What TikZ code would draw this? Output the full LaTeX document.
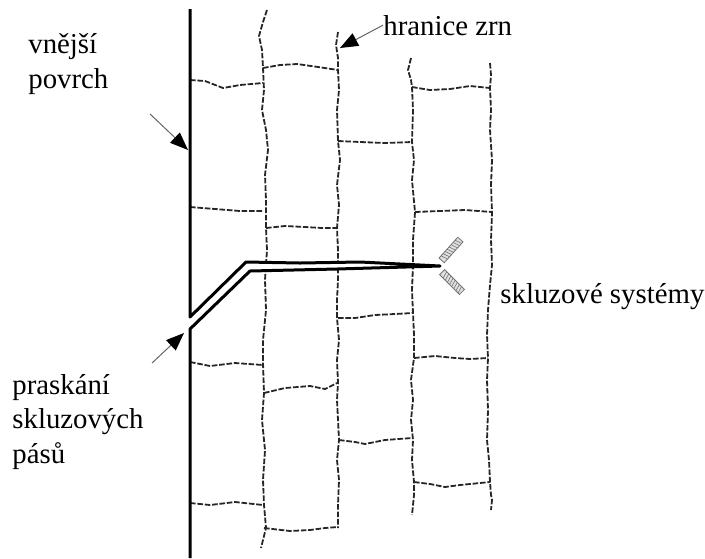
\documentclass[tikz,border=0pt]{standalone}
\usepackage{fontspec}
\setmainfont{Liberation Serif}
\usetikzlibrary{arrows.meta}

\begin{document}
\begin{tikzpicture}[x=0.5pt,y=-0.5pt]
	\tikzset{every node/.style={inner sep=0pt,font=\fontsize{14.4}{17.2}\selectfont}}
	\tikzset{hranice/.style={black!85,line width=0.9pt,dash pattern=on 2.8pt off 0.9pt,line join=round}}
	\tikzset{povrch/.style={line width=1.5pt,line join=round}}
	\tikzset{popis/.style={black!60,line width=0.5pt,-{Triangle[length=9pt,width=7pt,color=black]}}}
	\tikzset{pas/.style={draw=black!55,fill=black!12,line width=0.4pt}}
	\useasboundingbox (0,0) rectangle (705,558);
	% grain boundaries, column by column
	\draw[hranice] (267,10) -- (263,22) -- (259,36) -- (262,50) -- (263,68) -- (264,90) -- (262,110) -- (266,130) -- (268,150) -- (265,175) -- (266,200) -- (266,228) -- (267,250) -- (265,280) -- (266,310) -- (263,340) -- (263,363) -- (264,393) -- (262,420) -- (265,450) -- (263,480) -- (264,505) -- (266,528) -- (263,540) -- (261,548);
	\draw[hranice] (338,32) -- (336,45) -- (338,58) -- (338,70) -- (339,90) -- (337,110) -- (338,141) -- (340,160) -- (337,185) -- (339,205) -- (337,228) -- (338,250) -- (338,280) -- (337,300) -- (337,318) -- (339,340) -- (337,360) -- (338,383) -- (337,400) -- (338,420) -- (339,440) -- (337,460) -- (339,480) -- (338,505) -- (338,528);
	\draw[hranice] (411,58) -- (408,70) -- (411,80) -- (412,87) -- (413,110) -- (412,142) -- (414,160) -- (412,180) -- (415,212) -- (413,240) -- (413,265) -- (412,290) -- (413,313) -- (414,335) -- (414,358) -- (411,380) -- (413,400) -- (411,420) -- (413,440) -- (412,460) -- (414,482) -- (414,495) -- (412,515);
	\draw[hranice] (490,63) -- (491,75) -- (490,88) -- (491,110) -- (490,130) -- (492,160) -- (491,185) -- (492,212) -- (491,240) -- (492,265) -- (490,285) -- (488,310) -- (487,335) -- (488,358) -- (487,380) -- (488,410) -- (487,440) -- (489,460) -- (490,482) -- (491,495) -- (492,500) -- (491,510);
	\draw[hranice] (190,80) -- (205,81) -- (223,88) -- (240,85) -- (263,83);
	\draw[hranice] (263,68) -- (280,65) -- (297,64) -- (318,67) -- (338,70);
	\draw[hranice] (412,87) -- (430,90) -- (450,89) -- (470,86) -- (490,88);
	\draw[hranice] (338,141) -- (360,142) -- (385,143) -- (412,142);
	\draw[hranice] (190,207) -- (215,209) -- (240,211) -- (263,211);
	\draw[hranice] (415,212) -- (440,211) -- (465,210) -- (492,212);
	\draw[hranice] (266,228) -- (285,226) -- (305,227) -- (322,228) -- (337,228);
	\draw[hranice] (338,318) -- (355,318) -- (375,315) -- (395,314) -- (413,313);
	\draw[hranice] (190,362) -- (210,366) -- (235,363) -- (263,365);
	\draw[hranice] (264,393) -- (285,388) -- (310,386) -- (325,389) -- (337,383);
	\draw[hranice] (414,358) -- (435,356) -- (455,358) -- (470,359) -- (488,358);
	\draw[hranice] (339,440) -- (355,442) -- (365,444) -- (385,440) -- (412,438);
	\draw[hranice] (190,503) -- (210,505) -- (235,502) -- (263,505);
	\draw[hranice] (264,528) -- (290,531) -- (310,530) -- (325,528) -- (338,527);
	\draw[hranice] (414,482) -- (430,484) -- (445,487) -- (460,485) -- (490,482);
	% surface with the crack
	\filldraw[povrch,fill=white] (190,9) -- (190,317) -- (246,262) -- (300,263) -- (360,262) -- (440,266) -- (337,269) -- (250,271) -- (190,329) -- (190,558);
	% slip bands at the tip
	\begin{scope}[shift={(451,250)},rotate=48]
		\draw[pas] (-14,-3.5) rectangle (14,3.5);
		\foreach \t in {-11,-8,...,10}
			\draw[black!55,line width=0.3pt] (\t,-3.5) -- (\t+2,3.5);
	\end{scope}
	\begin{scope}[shift={(452,282)},rotate=-45]
		\draw[pas] (-14,-3.5) rectangle (14,3.5);
		\foreach \t in {-11,-8,...,10}
			\draw[black!55,line width=0.3pt] (\t,-3.5) -- (\t+2,3.5);
	\end{scope}
	% labels
	\node[anchor=base west,align=left] (povrch) at (28,88) {vnější\\povrch};
	\node[anchor=base west] (zrn) at (383,35) {hranice zrn};
	\node[anchor=base west] (systemy) at (500,303) {skluzové systémy};
	\node[anchor=base west,align=left] (praskani) at (12,463) {praskání\\skluzových\\pásů};
	\coordinate (povrch-a) at (150,114);
	\coordinate (povrch-b) at (188,150);
	\coordinate (zrn-b) at (340,48);
	\coordinate (praskani-a) at (152,363);
	\coordinate (praskani-b) at (184,333);
	\draw[popis] (povrch-a) -- (povrch-b);
	\draw[popis] (zrn.west) -- (zrn-b);
	\draw[popis] (praskani-a) -- (praskani-b);
\end{tikzpicture}
\end{document}
